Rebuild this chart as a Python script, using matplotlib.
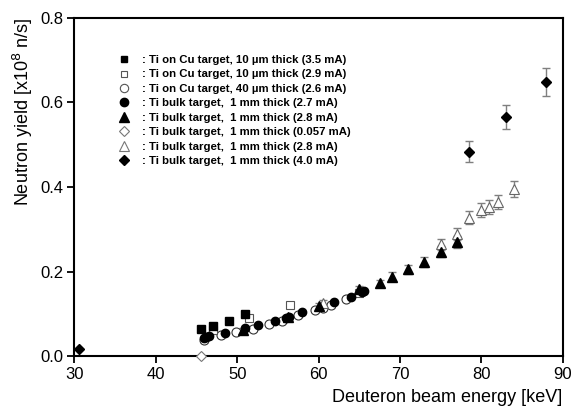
import matplotlib
matplotlib.use("Agg")
import matplotlib.pyplot as plt
from matplotlib.lines import Line2D

plt.rcParams['font.family'] = ['Liberation Sans', 'DejaVu Sans']

# Ti on Cu target, 10 um thick (3.5 mA) - filled squares
sq_f_x = [45.5, 47.0, 49.0, 51.0]
sq_f_y = [0.064, 0.072, 0.084, 0.099]
# Ti on Cu target, 10 um thick (2.9 mA) - open squares
sq_o_x = [47.0, 51.5, 56.5, 65.0]
sq_o_y = [0.062, 0.091, 0.121, 0.148]
# Ti on Cu target, 40 um thick (2.6 mA) - open circles
ci_o_x = [45.9, 48.0, 49.9, 51.9, 53.9, 55.5, 57.5, 59.5, 60.6, 61.5, 63.4]
ci_o_y = [0.038, 0.050, 0.056, 0.064, 0.076, 0.084, 0.097, 0.109, 0.113, 0.121, 0.135]
# Ti bulk target, 1 mm thick (2.7 mA) - filled circles
ci_f_x = [45.9, 46.2, 46.5, 48.5, 50.9, 52.5, 54.6, 56.0, 56.4, 58.0, 61.9, 64.0, 65.3, 65.6]
ci_f_y = [0.042, 0.045, 0.048, 0.054, 0.066, 0.073, 0.084, 0.090, 0.093, 0.105, 0.129, 0.140, 0.152, 0.155]
# Ti bulk target, 1 mm thick (2.8 mA) - filled triangles
tr_f_x = [50.7, 56.2, 60.0, 65.0, 67.5, 69.0, 71.0, 73.0, 75.0, 77.0]
tr_f_y = [0.062, 0.092, 0.118, 0.158, 0.172, 0.188, 0.205, 0.222, 0.247, 0.269]
tr_f_e = [0.005, 0.006, 0.007, 0.008, 0.009, 0.010, 0.011, 0.012, 0.013, 0.014]
# Ti bulk target, 1 mm thick (0.057 mA) - open diamond
di_o_x = [45.5]
di_o_y = [0.0]
# Ti bulk target, 1 mm thick (2.8 mA) - open triangles
tr_o_x = [60.5, 75.0, 77.0, 78.5, 80.0, 81.0, 82.0, 84.0]
tr_o_y = [0.125, 0.264, 0.289, 0.327, 0.345, 0.353, 0.365, 0.395]
tr_o_e = [0.008, 0.013, 0.014, 0.015, 0.016, 0.017, 0.017, 0.019]
# Ti bulk target, 1 mm thick (4.0 mA) - filled diamonds
di_f_x = [30.5, 78.5, 83.0, 88.0]
di_f_y = [0.016, 0.483, 0.565, 0.649]
di_f_e = [0.0, 0.025, 0.028, 0.033]

labels = [
    ': Ti on Cu target, 10 \u00b5m thick (3.5 mA)',
    ': Ti on Cu target, 10 \u00b5m thick (2.9 mA)',
    ': Ti on Cu target, 40 \u00b5m thick (2.6 mA)',
    ': Ti bulk target,  1 mm thick (2.7 mA)',
    ': Ti bulk target,  1 mm thick (2.8 mA)',
    ': Ti bulk target,  1 mm thick (0.057 mA)',
    ': Ti bulk target,  1 mm thick (2.8 mA)',
    ': Ti bulk target,  1 mm thick (4.0 mA)',
]

fig = plt.figure(figsize=(5.73, 4.15), dpi=100)
ax = fig.add_axes([0.130, 0.142, 0.852, 0.815])

ecol = '#7f7f7f'
ekw = dict(ecolor=ecol, elinewidth=1.0, capsize=3, capthick=1.0, linestyle='none')

ax.errorbar(di_f_x, di_f_y, yerr=di_f_e, **ekw, zorder=2)
ax.errorbar(tr_o_x, tr_o_y, yerr=tr_o_e, **ekw, zorder=2)
ax.errorbar(tr_f_x, tr_f_y, yerr=tr_f_e, **ekw, zorder=2)

ms = 6
ax.plot(ci_o_x, ci_o_y, 'o', ms=ms + 0.5, mfc='white', mec='#333333', mew=0.8, ls='none', zorder=3)
ax.plot(ci_f_x, ci_f_y, 'o', ms=ms, mfc='black', mec='black', ls='none', zorder=4)
ax.plot(sq_o_x, sq_o_y, 's', ms=ms - 0.5, mfc='white', mec='#555555', mew=0.8, ls='none', zorder=3)
ax.plot(sq_f_x, sq_f_y, 's', ms=ms - 0.5, mfc='black', mec='black', ls='none', zorder=4)
ax.plot(tr_o_x, tr_o_y, '^', ms=ms + 1, mfc='white', mec='#666666', mew=0.8, ls='none', zorder=3)
ax.plot(tr_f_x, tr_f_y, '^', ms=ms + 1, mfc='black', mec='black', ls='none', zorder=5)
ax.plot(di_o_x, di_o_y, 'D', ms=ms - 0.5, mfc='white', mec='#777777', mew=0.8, ls='none', zorder=6, clip_on=False)
ax.plot(di_f_x, di_f_y, 'D', ms=ms - 0.5, mfc='black', mec='black', ls='none', zorder=6)

handles = [
    Line2D([], [], marker='s', ms=5, mfc='black', mec='black', ls='none'),
    Line2D([], [], marker='s', ms=5, mfc='white', mec='#555555', mew=0.8, ls='none'),
    Line2D([], [], marker='o', ms=6, mfc='white', mec='#555555', mew=0.8, ls='none'),
    Line2D([], [], marker='o', ms=6, mfc='black', mec='black', ls='none'),
    Line2D([], [], marker='^', ms=6.5, mfc='black', mec='black', ls='none'),
    Line2D([], [], marker='D', ms=5, mfc='white', mec='#777777', mew=0.8, ls='none'),
    Line2D([], [], marker='^', ms=6.5, mfc='white', mec='#777777', mew=0.8, ls='none'),
    Line2D([], [], marker='D', ms=5, mfc='black', mec='black', ls='none'),
]
leg = ax.legend(handles, labels, loc='upper left', bbox_to_anchor=(0.089, 0.890),
                frameon=False, prop={'size': 8.2, 'weight': 'bold'},
                handlelength=1.0, handletextpad=1.1, labelspacing=0.39,
                borderaxespad=0, borderpad=0)

ax.set_xlim(30, 90)
ax.set_ylim(0.0, 0.8)
ax.set_xticks([30, 40, 50, 60, 70, 80, 90])
ax.set_yticks([0.0, 0.2, 0.4, 0.6, 0.8])
ax.set_yticklabels(['0.0', '0.2', '0.4', '0.6', '0.8'])
ax.tick_params(axis='both', direction='out', length=5, width=1.3, labelsize=12, pad=3,
               top=False, right=False)
for sp in ax.spines.values():
    sp.set_linewidth(1.5)

ax.set_xlabel('Deuteron beam energy [keV]', fontsize=13, loc='right', labelpad=5)
ax.set_ylabel('Neutron yield [x10$^{8}$ n/s]', fontsize=13, loc='top', labelpad=4)

fig.savefig('out.png', dpi=100)
